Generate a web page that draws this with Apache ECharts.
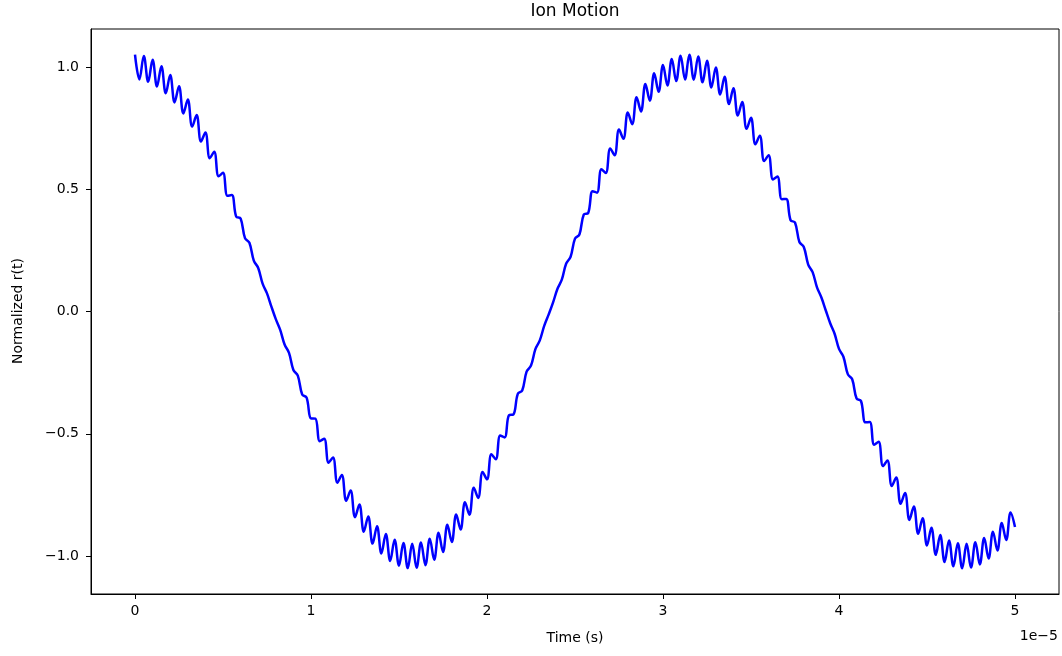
<!DOCTYPE html>
<html><head><meta charset="utf-8">
<script src="https://cdn.jsdelivr.net/npm/echarts@6/dist/echarts.min.js"></script>
<style>html,body{margin:0;padding:0;background:#fff}#c{width:1062px;height:656px}</style>
</head><body><div id="c"></div>
<script>
// Normalized r(t), read at every micromotion extremum (every 0.025e-5 s from t = 0)
const rNorm = [
  1.050, 0.949, 1.045, 0.939, 1.029, 0.920, 1.003, 0.892, 0.967, 0.855,
  0.921, 0.810, 0.867, 0.756, 0.803, 0.695, 0.732, 0.627, 0.653, 0.553,
  0.567, 0.473, 0.476, 0.388, 0.380, 0.300, 0.281, 0.208, 0.178, 0.114,
  0.074, 0.020, -0.031, -0.075, -0.135, -0.169, -0.239, -0.262, -0.339, -0.352,
  -0.437, -0.438, -0.530, -0.520, -0.618, -0.597, -0.700, -0.668, -0.774, -0.732,
  -0.841, -0.789, -0.900, -0.838, -0.949, -0.878, -0.989, -0.910, -1.020, -0.933,
  -1.039, -0.946, -1.049, -0.950, -1.048, -0.944, -1.037, -0.929, -1.015, -0.905,
  -0.983, -0.872, -0.942, -0.830, -0.891, -0.780, -0.831, -0.721, -0.762, -0.656,
  -0.686, -0.584, -0.604, -0.507, -0.515, -0.424, -0.421, -0.337, -0.323, -0.246,
  -0.221, -0.154, -0.118, -0.059, -0.013, 0.036, 0.092, 0.130, 0.196, 0.224,
  0.298, 0.315, 0.397, 0.403, 0.492, 0.486, 0.582, 0.566, 0.666, 0.639,
  0.744, 0.706, 0.814, 0.766, 0.876, 0.818, 0.930, 0.862, 0.974, 0.898,
  1.008, 0.924, 1.032, 0.942, 1.046, 0.949, 1.050, 0.948, 1.043, 0.937,
  1.025, 0.916, 0.998, 0.887, 0.960, 0.848, 0.913, 0.801, 0.857, 0.747,
  0.792, 0.684, 0.719, 0.615, 0.639, 0.540, 0.552, 0.459, 0.460, 0.373,
  0.364, 0.284, 0.264, 0.192, 0.161, 0.099, 0.057, 0.004, -0.048, -0.091,
  -0.153, -0.185, -0.256, -0.277, -0.356, -0.366, -0.453, -0.452, -0.545, -0.533,
  -0.632, -0.609, -0.713, -0.679, -0.786, -0.742, -0.852, -0.797, -0.909, -0.845,
  -0.957, -0.884, -0.995, -0.914, -1.024, -0.936, -1.042, -0.947, -1.050, -0.950,
  -1.047, -0.943, -1.034, -0.926, -1.010, -0.900, -0.977, -0.865, -0.934, -0.822,
  -0.881
];
const timeStep = 0.025;            // sample spacing, in units of 1e-5 s
const xTicks = [0, 1, 2, 3, 4, 5];
const yTicks = [-1.0, -0.5, 0.0, 0.5, 1.0];
const titleText = 'Ion Motion';
const xName = 'Time (s)';
const yName = 'Normalized r(t)';
const xOffsetText = '1e\u22125';

const data = rNorm.map((v, i) => [i * timeStep, v]);
const FONT = '"DejaVu Sans", sans-serif';
const fmtY = v => (v < 0 ? '\u2212' : '') + Math.abs(v).toFixed(1);

const chart = echarts.init(document.getElementById('c'), null, {renderer: 'canvas'});
chart.setOption({
  animation: false,
  grid: {left: 91, right: 3, top: 29, bottom: 62, show: true, borderColor: '#000', borderWidth: 1},
  xAxis: {
    type: 'value', min: -0.25, max: 5.25,
    splitLine: {show: false},
    axisLine: {show: true, onZero: false, lineStyle: {color: '#000', width: 1}},
    axisTick: {show: true, customValues: xTicks, length: 5, lineStyle: {color: '#000', width: 1}},
    axisLabel: {customValues: xTicks, margin: 10, color: '#000', fontSize: 14, fontFamily: FONT,
      formatter: v => String(v)}
  },
  yAxis: {
    type: 'value', min: -1.155, max: 1.155,
    splitLine: {show: false},
    axisLine: {show: true, onZero: false, lineStyle: {color: '#000', width: 1}},
    axisTick: {show: true, customValues: yTicks, length: 5, lineStyle: {color: '#000', width: 1}},
    axisLabel: {customValues: yTicks, margin: 12, color: '#000', fontSize: 14, fontFamily: FONT,
      formatter: fmtY}
  },
  series: [{
    type: 'line', data: data, showSymbol: false, smooth: 0.38,
    lineStyle: {color: '#0000ff', width: 2.5}, itemStyle: {color: '#0000ff'}
  }],
  graphic: [
    {type: 'text', x: 575, y: 12, style: {text: titleText, font: '17px ' + FONT, fill: '#000', textAlign: 'center', textVerticalAlign: 'middle'}},
    {type: 'text', x: 575, y: 638, style: {text: xName, font: '14px ' + FONT, fill: '#000', textAlign: 'center', textVerticalAlign: 'middle'}},
    {type: 'text', x: 18, y: 311, rotation: Math.PI / 2, style: {text: yName, font: '14px ' + FONT, fill: '#000', textAlign: 'center', textVerticalAlign: 'middle'}},
    {type: 'text', x: 1058, y: 636, style: {text: xOffsetText, font: '14px ' + FONT, fill: '#000', textAlign: 'right', textVerticalAlign: 'middle'}}
  ]
});
</script></body></html>
